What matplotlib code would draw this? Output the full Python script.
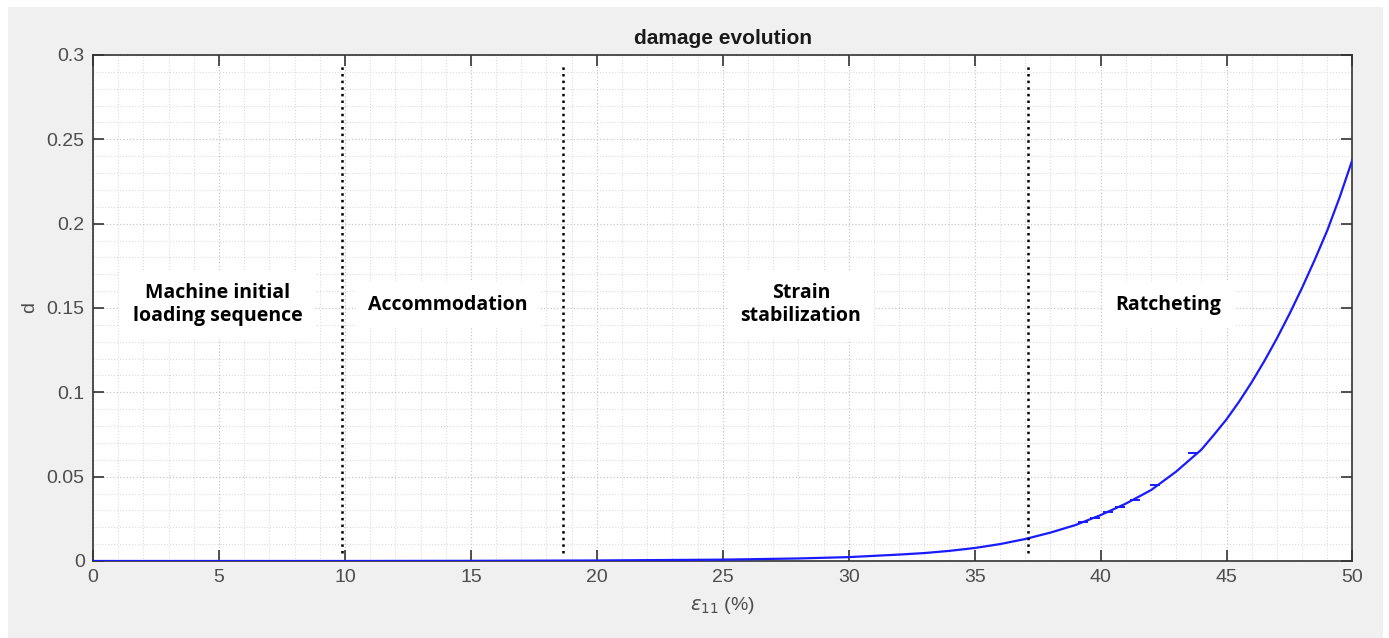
import numpy as np
import matplotlib.pyplot as plt
from matplotlib.patches import Rectangle
from matplotlib.ticker import MultipleLocator

# damage curve
eps = [0, 5, 10, 15, 20, 25, 28, 30, 32, 33, 34, 35, 36, 37, 38, 39, 40, 41,
       42, 43, 44, 44.5, 45, 45.5, 46, 46.5, 47, 47.5, 48, 48.5, 49, 49.5, 50]
dmg = [0, 0, 0, 0.0001, 0.0003, 0.0008, 0.0015, 0.0023, 0.0038, 0.0047, 0.0060,
       0.0077, 0.0100, 0.0130, 0.0168, 0.0213, 0.0272, 0.0340, 0.0420, 0.0530,
       0.0660, 0.0748, 0.0840, 0.0945, 0.1060, 0.1185, 0.1320, 0.1465, 0.1620,
       0.1785, 0.1960, 0.2160, 0.2380]

# little cycle marks sitting on the curve
bump_x = [39.3, 39.76, 40.3, 40.76, 41.36, 42.16, 43.67]
bump_y = [0.0230, 0.0254, 0.0289, 0.0319, 0.0364, 0.0449, 0.0638]

# phase boundaries and labels
bounds = [9.9, 18.65, 37.1]
phase_x = [4.95, 14.1, 28.1, 42.7]
phase_labels = ['Machine initial\nloading sequence', 'Accommodation',
                'Strain\nstabilization', 'Ratcheting']
phase_y = 0.152

fig = plt.figure(figsize=(13.89, 6.38), dpi=100, facecolor='white')
fig.patches.append(Rectangle((8 / 1389, 0), (1383 - 8) / 1389, (638 - 7) / 638,
                             transform=fig.transFigure, facecolor='#f0f0f0',
                             edgecolor='none', zorder=-10))

ax = fig.add_axes([0.067, 0.1207, 0.9067, 0.7931])
ax.set_facecolor('white')

ax.plot(eps, dmg, color='#1a1aff', lw=1.6, zorder=3)
ax.plot(bump_x, bump_y, ls='none', marker='_', ms=7, mew=1.4,
        color='#1a1aff', zorder=3)

for b in bounds:
    ax.plot([b, b], [0.005, 0.295], color='black', ls=':', lw=1.8, zorder=4)

for x, lab in zip(phase_x, phase_labels):
    ax.text(x, phase_y, lab, ha='center', va='center', fontsize=14,
            fontweight='bold', family=['Open Sans', 'DejaVu Sans'],
            linespacing=1.25, zorder=5,
            bbox=dict(facecolor='white', edgecolor='none', pad=9))

ax.set_xlim(0, 50)
ax.set_ylim(0, 0.3)
ax.xaxis.set_major_locator(MultipleLocator(5))
ax.xaxis.set_minor_locator(MultipleLocator(1))
ax.yaxis.set_major_locator(MultipleLocator(0.05))
ax.yaxis.set_minor_locator(MultipleLocator(0.01))
ax.set_yticks([0, 0.05, 0.1, 0.15, 0.2, 0.25, 0.3])
ax.set_yticklabels(['0', '0.05', '0.1', '0.15', '0.2', '0.25', '0.3'])

ax.grid(which='major', color='#c8c8c8', ls=':', lw=0.9)
ax.grid(which='minor', color='#dcdcdc', ls=':', lw=0.8)
ax.set_axisbelow(True)

ax.tick_params(which='major', direction='in', length=8, width=1.2,
               top=True, right=True, labelsize=14, labelcolor='#4d4d4d',
               color='#333333', pad=6)
ax.tick_params(which='minor', length=0)
for lbl in ax.get_xticklabels() + ax.get_yticklabels():
    lbl.set_family(['Liberation Sans', 'DejaVu Sans'])
for s in ax.spines.values():
    s.set_color('#333333')
    s.set_linewidth(1.2)

ax.set_title('damage evolution', fontsize=15, fontweight='bold', pad=8,
             color='#1a1a1a', family=['Liberation Sans', 'DejaVu Sans'])
ax.set_xlabel(r'$\epsilon_{11}$ (%)', fontsize=14, color='#4d4d4d', labelpad=6,
              family=['Liberation Sans', 'DejaVu Sans'])
ax.set_ylabel('d', fontsize=14, color='#4d4d4d', labelpad=6,
              family=['Liberation Sans', 'DejaVu Sans'])

fig.savefig('out.png', dpi=100, facecolor=fig.get_facecolor())
